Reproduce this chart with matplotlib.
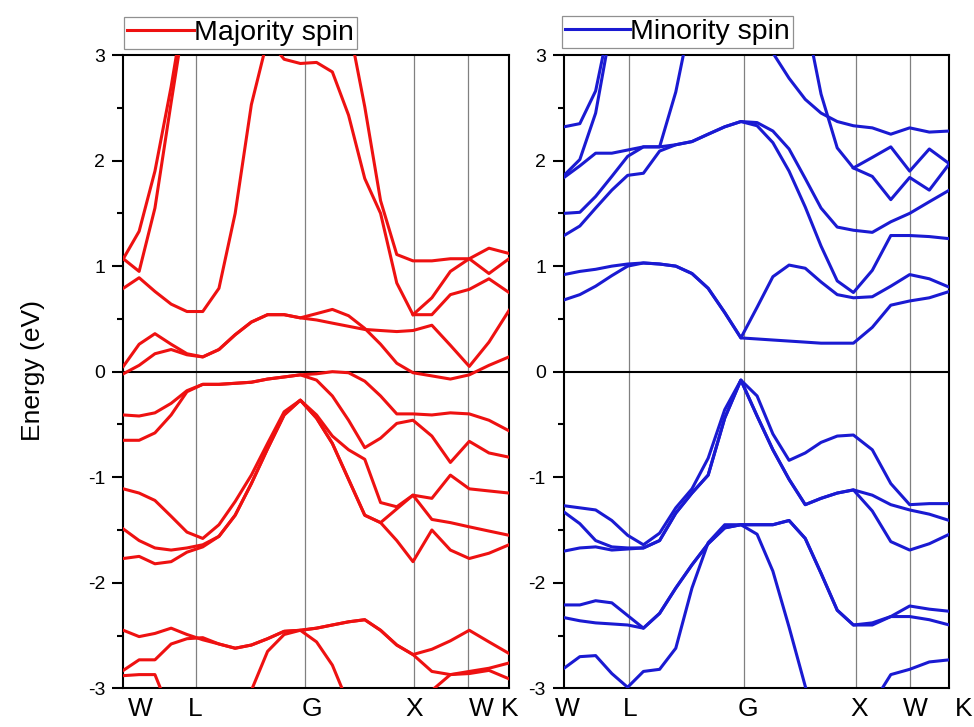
import numpy as np
import matplotlib
matplotlib.use('Agg')
import matplotlib.pyplot as plt
from matplotlib.lines import Line2D

plt.rcParams['font.family'] = ['Liberation Sans', 'DejaVu Sans']
plt.rcParams['axes.unicode_minus'] = False

nan = np.nan

# k-path grid (fraction of path W-L-G-X-W-K)
k_path = [0.000, 0.041, 0.082, 0.124, 0.165, 0.206, 0.248, 0.290, 0.332, 0.374,
          0.417, 0.459, 0.501, 0.542, 0.584, 0.626, 0.667, 0.709, 0.751, 0.800,
          0.848, 0.897, 0.948, 1.000]

# ---- Majority spin bands (eV) ----
maj_u1 = [1.07, 1.33, 1.90, 2.70, 3.60] + [nan] * 19
maj_u2 = [1.07, 0.95, 1.55, 2.55, 3.50] + [nan] * 19
maj_c3 = [0.79, 0.89, 0.76, 0.64, 0.57, 0.57, 0.79, 1.50, 2.53, 3.15, 2.96, 2.92,
          2.93, 2.84, 2.43, 1.83, 1.50, 0.84, 0.54, 0.54, 0.73, 0.78, 0.88, 0.75]
maj_xb = [nan] * 18 + [0.54, 0.70, 0.95, 1.07, 0.93, 1.07]
maj_s2 = [nan] * 14 + [3.30, 2.51, 1.62, 1.11, 1.05, 1.05, 1.07, 1.07, 1.17, 1.12]
maj_c1 = [-0.02, 0.06, 0.17, 0.21, 0.16, 0.14, 0.21, 0.35, 0.47, 0.54, 0.54, 0.51,
          0.55, 0.59, 0.53, 0.41, 0.26, 0.08, -0.01, -0.04, -0.07, -0.03, 0.06, 0.14]
maj_c2 = [0.05, 0.26, 0.36, 0.26, 0.17, 0.14, 0.21, 0.35, 0.47, 0.54, 0.54, 0.51,
          0.49, 0.46, 0.43, 0.40, 0.39, 0.38, 0.39, 0.44, 0.25, 0.05, 0.28, 0.58]
maj_v1 = [-0.41, -0.42, -0.39, -0.30, -0.18, -0.12, -0.12, -0.11, -0.10, -0.07, -0.05, -0.03,
          -0.02, 0.00, -0.01, -0.09, -0.23, -0.40, -0.40, -0.41, -0.39, -0.40, -0.46, -0.56]
maj_v2 = [-0.65, -0.65, -0.58, -0.41, -0.19, -0.12, -0.12, -0.11, -0.10, -0.07, -0.05, -0.03,
          -0.08, -0.23, -0.46, -0.72, -0.63, -0.49, -0.46, -0.61, -0.86, -0.66, -0.77, -0.81]
maj_v4 = [-1.11, -1.15, -1.22, -1.37, -1.52, -1.58, -1.45, -1.23, -0.98, -0.68, -0.38, -0.27,
          -0.41, -0.61, -0.74, -0.83, -1.24, -1.28, -1.17, -1.20, -0.98, -1.11, -1.13, -1.15]
maj_v5 = [-1.49, -1.60, -1.67, -1.69, -1.67, -1.64, -1.56, -1.36, -1.06, -0.73, -0.41, -0.27,
          -0.44, -0.68, -1.02, -1.36, -1.43, -1.60, -1.80, -1.50, -1.69, -1.77, -1.72, -1.64]
maj_v6 = [-1.77, -1.75, -1.82, -1.80, -1.71, -1.66, -1.56, -1.36, -1.06, -0.73, -0.41, -0.27,
          -0.44, -0.68, -1.02, -1.36, -1.43, -1.30, -1.17, -1.40, -1.43, -1.47, -1.51, -1.55]
maj_d1 = [-2.45, -2.51, -2.48, -2.43, -2.49, -2.54, -2.58, -2.62, -2.59, -2.53, -2.46, -2.45,
          -2.43, -2.40, -2.37, -2.35, -2.45, -2.59, -2.68, -2.63, -2.55, -2.45, -2.56, -2.67]
maj_d2 = [-2.83, -2.73, -2.73, -2.58, -2.53, -2.52, -2.58, -2.62, -2.59, -2.53, -2.46, -2.45,
          -2.56, -2.78, -3.15] + [nan] * 9
maj_d3 = [nan] * 7 + [-3.50, -3.02, -2.65, -2.49, -2.45, -2.43, -2.40, -2.37, -2.35, -2.45,
                      -2.59, -2.68, -2.84, -2.87, -2.86, -2.83, -2.91]
maj_d4 = [-2.88, -2.87, -2.87, -3.25] + [nan] * 20
maj_d6 = [nan] * 19 + [-3.02, -2.87, -2.84, -2.81, -2.76]

# ---- Minority spin bands (eV) ----
min_r1 = [2.32, 2.35, 2.66, 3.40] + [nan] * 20
min_r2 = [1.86, 2.01, 2.45, 3.30] + [nan] * 20
min_r3 = [1.84, 1.95, 2.07, 2.07, 2.10, 2.13, 2.13, 2.15, 2.18, 2.25, 2.32, 2.37,
          2.36, 2.28, 2.11, 1.83, 1.55, 1.37, 1.34, 1.32, 1.42, 1.50, 1.61, 1.72]
min_r4 = [1.50, 1.51, 1.66, 1.85, 2.04, 2.13, 2.13, 2.65, 3.40] + [nan] * 15
min_r5 = [1.29, 1.38, 1.55, 1.72, 1.86, 1.88, 2.09, 2.15, 2.18, 2.25, 2.32, 2.37,
          2.33, 2.17, 1.90, 1.56, 1.19, 0.86, 0.75, 0.96, 1.29, 1.29, 1.28, 1.26]
min_a = [nan] * 12 + [3.50, 3.02, 2.78, 2.58, 2.45, 2.37, 2.33, 2.31, 2.25, 2.31, 2.27, 2.28]
min_b = [nan] * 15 + [3.38, 2.63, 2.12, 1.93, 2.03, 2.13, 1.90, 2.11, 1.97]
min_c = [nan] * 18 + [1.93, 1.85, 1.63, 1.84, 1.72, 1.97]
min_l1 = [0.92, 0.95, 0.97, 1.00, 1.02, 1.03, 1.02, 1.00, 0.93, 0.79, 0.56, 0.32,
          0.61, 0.90, 1.01, 0.98, 0.85, 0.73, 0.70, 0.71, 0.81, 0.92, 0.88, 0.80]
min_l2 = [0.68, 0.73, 0.81, 0.91, 1.00, 1.03, 1.02, 1.00, 0.93, 0.79, 0.56, 0.32,
          0.31, 0.30, 0.29, 0.28, 0.27, 0.27, 0.27, 0.42, 0.63, 0.67, 0.70, 0.76]
min_v1 = [-1.27, -1.29, -1.31, -1.41, -1.55, -1.64, -1.53, -1.29, -1.11, -0.82, -0.36, -0.08,
          -0.23, -0.59, -0.84, -0.77, -0.67, -0.61, -0.60, -0.74, -1.06, -1.26, -1.25, -1.25]
min_v2 = [-1.33, -1.44, -1.60, -1.66, -1.67, -1.67, -1.60, -1.34, -1.15, -0.98, -0.44, -0.08,
          -0.42, -0.74, -1.02, -1.26, -1.20, -1.15, -1.12, -1.17, -1.26, -1.31, -1.35, -1.41]
min_v3 = [-1.70, -1.67, -1.66, -1.69, -1.68, -1.67, -1.60, -1.34, -1.15, -0.98, -0.44, -0.08,
          -0.42, -0.74, -1.02, -1.26, -1.20, -1.15, -1.12, -1.32, -1.61, -1.69, -1.63, -1.54]
min_v4 = [-2.21, -2.21, -2.17, -2.19, -2.31, -2.43, -2.29, -2.05, -1.83, -1.63, -1.48, -1.45,
          -1.45, -1.45, -1.41, -1.58, -1.91, -2.26, -2.40, -2.40, -2.32, -2.22, -2.25, -2.27]
min_v5 = [-2.33, -2.36, -2.38, -2.39, -2.40, -2.43, -2.29, -2.05, -1.83, -1.63, -1.48, -1.45,
          -1.45, -1.45, -1.41, -1.58, -1.91, -2.26, -2.40, -2.38, -2.32, -2.32, -2.35, -2.40]
min_v6 = [-2.81, -2.70, -2.69, -2.86, -2.99, -2.84, -2.82, -2.62, -2.05, -1.62, -1.45, -1.45,
          -1.54, -1.89, -2.42, -2.98, -3.50] + [nan] * 7
min_z = [nan] * 19 + [-3.15, -2.87, -2.82, -2.75, -2.73]

maj_bands = [maj_u1, maj_u2, maj_c3, maj_xb, maj_s2, maj_c1, maj_c2, maj_v1, maj_v2,
             maj_v4, maj_v5, maj_v6, maj_d1, maj_d2, maj_d3, maj_d4, maj_d6]
min_bands = [min_r1, min_r2, min_r3, min_r4, min_r5, min_a, min_b, min_c, min_l1, min_l2,
             min_v1, min_v2, min_v3, min_v4, min_v5, min_v6, min_z]

# symmetry lines drawn in each panel and label positions
sym_labels = ['W', 'L', 'G', 'X', 'W', 'K']
maj_lines = [0.189, 0.472, 0.753, 0.894]
min_lines = [0.168, 0.466, 0.757, 0.899]
maj_label_pos = [0.045, 0.186, 0.490, 0.755, 0.929, 1.001]
min_label_pos = [0.009, 0.172, 0.476, 0.765, 0.911, 1.036]

RED = '#ee1111'
BLUE = '#1a1ad2'

fig = plt.figure(figsize=(9.74, 7.27), dpi=100)
axL = fig.add_axes([0.1266, 0.0532, 0.3960, 0.8711])
axR = fig.add_axes([0.5791, 0.0532, 0.3956, 0.8711])


def style(ax, lines, label_pos):
    ax.set_xlim(0, 1)
    ax.set_ylim(-3, 3)
    for x in lines:
        ax.axvline(x, color='#808080', lw=0.9, zorder=1)
    ax.axhline(0, color='black', lw=1.5, zorder=1)
    ax.set_yticks([-3, -2, -1, 0, 1, 2, 3])
    ax.set_yticklabels(['-3', '-2', '-1', '0', '1', '2', '3'])
    ax.set_yticks(np.arange(-2.5, 3, 1.0), minor=True)
    ax.tick_params(axis='y', which='major', direction='out', length=8, width=1.5,
                   labelsize=14, pad=5)
    ax.tick_params(axis='y', which='minor', direction='out', length=4.5, width=1.5)
    ax.set_xticks([])
    xtrans = ax.get_xaxis_transform()
    for pos, lab in zip(label_pos, sym_labels):
        ax.text(pos, -0.013, lab, transform=xtrans, ha='center', va='top',
                fontsize=19, clip_on=False)
    for sp in ax.spines.values():
        sp.set_linewidth(1.5)
        sp.set_color('black')


style(axL, maj_lines, maj_label_pos)
style(axR, min_lines, min_label_pos)

for b in maj_bands:
    axL.plot(k_path, b, color=RED, lw=2.2, zorder=3)
for b in min_bands:
    axR.plot(k_path, b, color=BLUE, lw=2.2, zorder=3)

legL = axL.legend([Line2D([], [], color=RED, lw=2.2)], ['Majority spin'],
                  loc='lower left', bbox_to_anchor=(0.002, 1.0095), borderaxespad=0,
                  fontsize=20.5, handlelength=2.35, handletextpad=0.0, borderpad=0.1,
                  frameon=True, fancybox=False, edgecolor='#909090', framealpha=1)
legL.get_frame().set_linewidth(0.9)
legR = axR.legend([Line2D([], [], color=BLUE, lw=2.2)], ['Minority spin'],
                  loc='lower left', bbox_to_anchor=(-0.005, 1.011), borderaxespad=0,
                  fontsize=20.5, handlelength=2.3, handletextpad=0.0, borderpad=0.1,
                  frameon=True, fancybox=False, edgecolor='#909090', framealpha=1)
legR.get_frame().set_linewidth(0.9)

fig.text(0.034, 0.49, 'Energy (eV)', rotation=90, ha='center', va='center', fontsize=19)

fig.savefig('out.png', dpi=100)
